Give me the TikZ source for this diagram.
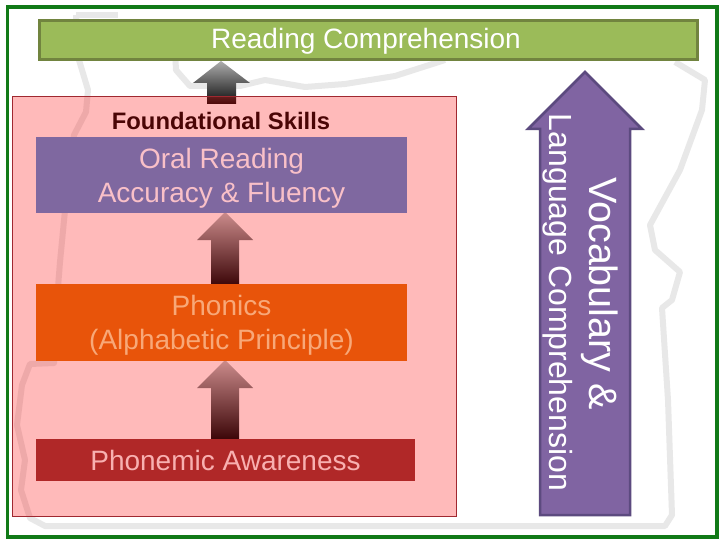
\documentclass[tikz,border=0pt]{standalone}
\usepackage{fontspec}
\setmainfont{Liberation Sans}
\definecolor{frameg}{HTML}{117A17}
\definecolor{greenf}{HTML}{9BBB59}
\definecolor{greenl}{HTML}{71843F}
\definecolor{purf}{HTML}{7F68A0}
\definecolor{bigf}{HTML}{8064A2}
\definecolor{bigl}{HTML}{5C4A7F}
\definecolor{orf}{HTML}{E8540A}
\definecolor{redf}{HTML}{B02828}
\definecolor{pinkt}{HTML}{F9C0C8}
\definecolor{ort}{HTML}{F8A878}
\definecolor{redt}{HTML}{F8B0B0}
\definecolor{outl}{HTML}{E8E8E8}
\definecolor{pinkl}{HTML}{A02830}
\definecolor{dk}{HTML}{4A0505}
\definecolor{rosetop}{HTML}{CC8C8C}
\definecolor{rosebot}{HTML}{3C0608}
\tikzset{
  x=1pt,y=-1pt,
  outline/.style={draw=outl,line width=6pt,line join=round},
  bar/.style={minimum width=#1,inner sep=0pt,outer sep=0pt},
  bartext/.style={inner sep=0pt,align=center,font=\fontsize{28}{33.5}\selectfont},
  upgray/.style={top color=black!32,bottom color=black!95},
  uprose/.style={top color=rosetop,bottom color=rosebot},
}
\begin{document}
\begin{tikzpicture}
\useasboundingbox (0,0) rectangle (720,540);
\fill[white] (0,0) rectangle (720,540);
% state outline behind everything
\draw[outline] (76,15) -- (79,60) -- (88,90) -- (86,112) -- (74,135) -- (66,200) -- (60,262) -- (57,300) -- (54,363)
  -- (30,364) -- (22,385) -- (17,425) -- (25,460) -- (21,490) -- (30,518) -- (45,526) -- (665,526) -- (672,515)
  -- (668,400) -- (662,308) -- (672,300) -- (680,272) -- (655,250) -- (650,225) -- (680,170) -- (702,110) -- (705,80) -- (675,62);
\draw[outline] (175,50) -- (176,70) -- (190,86) -- (240,86) -- (265,80) -- (305,87) -- (345,84) -- (395,76) -- (445,60);
\draw[outline] (76,15) -- (118,15);
% top arrow, under the translucent panel
\path[shade,upgray] (221,61) -- (250,83) -- (236,83) -- (236,104) -- (207,104) -- (207,83) -- (193,83) -- cycle;
% panel
\node[draw=pinkl,line width=.9pt,fill=red,fill opacity=.27,draw opacity=1,minimum width=444,minimum height=420,inner sep=0pt,anchor=north west] (panel) at (12,96) {};
% frame
\node[draw=frameg,line width=3.6pt,minimum width=709.5,minimum height=530,inner sep=0pt,anchor=north west] (frame) at (5.5,5) {};
% top bar
\node[draw=greenl,fill=greenf,line width=3pt,minimum width=658,minimum height=39,inner sep=0pt,anchor=north west] (top) at (37.5,19.5) {};
\node[text=white,font=\fontsize{28}{30}\selectfont] (toptext) at (366,41) {Reading Comprehension};
\node[font=\fontsize{23.8}{26}\selectfont\bfseries,text=dk] (fs) at (221,121) {Foundational Skills};
% inner arrows
\path[shade,uprose] (225,212) -- (253,240) -- (239,240) -- (239,285) -- (211,285) -- (211,240) -- (197,240) -- cycle;
\path[shade,uprose] (225,360) -- (253,388) -- (239,388) -- (239,439) -- (211,439) -- (211,388) -- (197,388) -- cycle;
% bars
\node[bar=371,minimum height=76,fill=purf,anchor=north west] (oral) at (36,137) {};
\node[bartext,text=pinkt] (oraltext) at (221.5,178.5) {Oral Reading\\Accuracy \& Fluency};
\node[bar=371,minimum height=77,fill=orf,anchor=north west] (phon) at (36,284) {};
\node[bartext,text=ort] (phontext) at (221.5,325.5) {Phonics\\(Alphabetic Principle)};
\node[bar=379,minimum height=42,fill=redf,anchor=north west] (pa) at (36,439) {};
\node[bartext,text=redt] (patext) at (225.5,460) {Phonemic Awareness};
% big arrow
\draw[fill=bigf,draw=bigl,line width=2.5pt,line join=miter] (585,72) -- (642,129) -- (630,129) -- (630,515) -- (540,515) -- (540,129) -- (528,129) -- cycle;
\node[rotate=-90,text=white,font=\fontsize{39.5}{44}\selectfont] (voc) at (600,293.5) {Vocabulary \&};
\node[rotate=-90,text=white,font=\fontsize{32}{36}\selectfont] (lang) at (557.5,302.5) {Language Comprehension};
\end{tikzpicture}
\end{document}
